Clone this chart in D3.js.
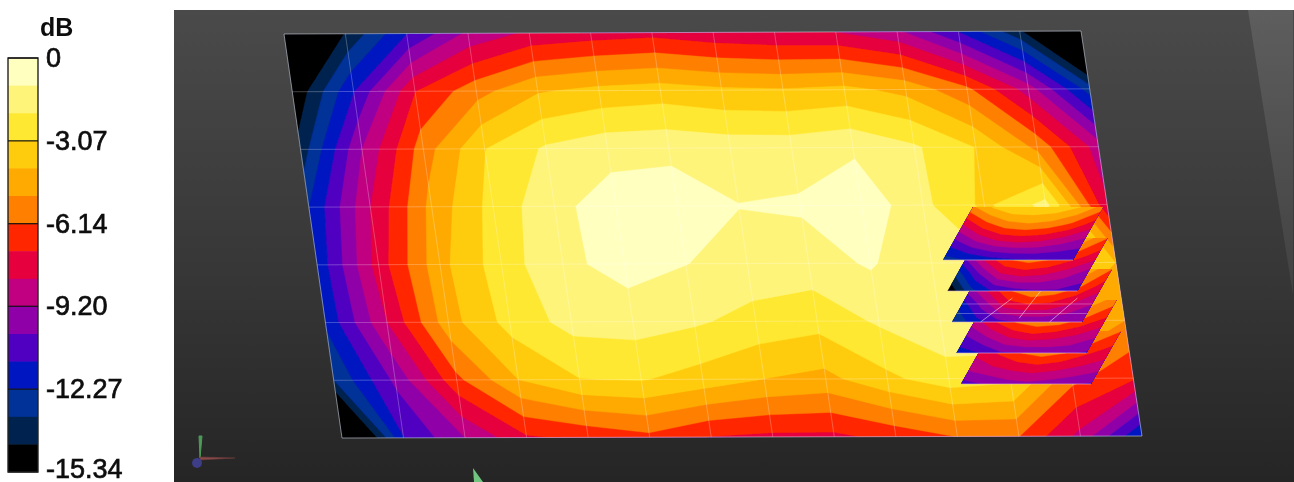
<!DOCTYPE html>
<html>
<head>
  <meta charset="utf-8">
  <style>
  html, body { margin: 0; padding: 0; background: #fff; overflow: hidden; }
  svg { display: block; }
  text { font-family: "Liberation Sans", Arial, sans-serif; fill: #111; }
  </style>
  <script src="https://d3js.org/d3.v7.min.js"></script>
</head>
<body>
  <script type="text/javascript">
  var tickLabels = ['0', '-3.07', '-6.14', '-9.20', '-12.27', '-15.34'];
  var tickValues = [0, -3.07, -6.14, -9.20, -12.27, -15.34];
  var bandColors = ['#000000', '#02234f', '#003098', '#0018c0', '#5000c0', '#9000a8', '#c00080', '#e6003c',
    '#ff2800', '#ff7f00', '#ffaa00', '#ffcc10', '#ffe830', '#fff47a', '#ffffc0'];

  // dB at the plate nodes, 14 columns, 8 rows
  var plateRows = [
    [-20.5, -14.2, -11.3, -9.0, -8.0, -7.7, -7.5, -7.9, -8.1, -8.2, -9.0, -11.3, -14.1, -19.4],
    [-15.3, -11.3, -7.2, -5.5, -4.2, -3.8, -3.6, -3.9, -4.0, -3.8, -4.4, -5.9, -8.7, -12.8],
    [-13.9, -9.2, -5.6, -3.1, -1.9, -1.4, -1.3, -1.5, -1.5, -1.2, -1.9, -3.1, -5.4, -8.7],
    [-12.3, -8.2, -4.8, -2.7, -1.3, -0.5, -0.4, -1.0, -0.9, -0.3, -1.8, -3.3, -1.7, -8.0],
    [-12.0, -7.7, -4.4, -2.5, -1.3, -0.6, -1.0, -1.4, -1.5, -0.9, -1.9, -2.0, -3.1, -4.1],
    [-12.1, -8.2, -4.5, -2.7, -1.7, -1.6, -1.9, -2.4, -2.7, -1.9, -1.3, -1.0, -4.1, -5.1],
    [-13.3, -10.0, -6.4, -4.1, -3.1, -3.0, -3.5, -4.1, -4.4, -3.3, -2.5, -2.8, -5.8, -7.0],
    [-18.4, -11.3, -9.2, -7.3, -6.9, -6.4, -7.2, -7.4, -7.4, -6.8, -6.1, -6.1, -8.5, -12.3]
  ];

  // the five small slices stacked on the right, 7 columns, 4 rows each
  var slice1 = [
    [-5.3, -3.9, -3.1, -3.1, -3.3, -4.1, -5.6],
    [-8.2, -6.6, -5.6, -5.3, -5.6, -6.4, -7.7],
    [-10.7, -9.4, -8.5, -8.2, -8.4, -9.0, -9.7],
    [-12.8, -12.3, -11.8, -11.5, -11.3, -11.3, -11.3]
  ];
  var slice2 = [
    [-6.1, -4.6, -3.6, -3.3, -3.6, -4.6, -6.1],
    [-9.7, -7.2, -5.6, -5.1, -5.6, -6.6, -7.7],
    [-12.8, -10.2, -8.2, -7.7, -8.0, -8.7, -9.7],
    [-15.3, -12.8, -11.3, -10.7, -10.4, -10.4, -10.7]
  ];
  var slice3 = [
    [-6.1, -4.6, -3.6, -3.1, -3.6, -4.6, -6.1],
    [-9.2, -7.2, -5.6, -4.6, -5.1, -6.1, -7.7],
    [-11.8, -9.7, -7.7, -7.2, -7.4, -8.2, -9.2],
    [-13.3, -11.8, -10.7, -10.2, -10.0, -10.0, -10.2]
  ];
  var slice4 = [
    [-5.6, -4.3, -3.6, -3.1, -3.6, -4.6, -5.6],
    [-8.2, -6.6, -5.4, -4.9, -5.1, -6.1, -7.2],
    [-10.2, -9.0, -7.9, -7.4, -7.7, -8.2, -9.0],
    [-11.8, -11.3, -10.4, -10.2, -10.0, -10.0, -10.4]
  ];
  var slice5 = [
    [-6.6, -5.1, -4.1, -3.6, -4.1, -5.1, -6.1],
    [-7.7, -6.6, -5.6, -5.1, -5.6, -6.6, -7.4],
    [-8.7, -8.2, -7.7, -7.4, -7.7, -8.2, -8.7],
    [-10.7, -10.2, -9.7, -9.5, -9.7, -10.0, -10.4]
  ];
  var slices = [slice1, slice2, slice3, slice4, slice5];

  var screen = {width: 1294, height: 482};
  var plate = {tl: [284, 34], tr: [1081, 31], br: [1142, 436], bl: [342, 438]};
  var slicePos = {tl: [973, 207], tr: [1103, 207], br: [1073, 260], bl: [943, 260], dx: 4.5, dy: 31};

  var svg = d3.select('body').append('svg')
    .attr('width', screen.width)
    .attr('height', screen.height);
  var defs = svg.append('defs');

  // background panel
  var bg = defs.append('linearGradient').attr('id', 'panelBg')
    .attr('x1', 0).attr('y1', 0).attr('x2', 0).attr('y2', 1);
  bg.append('stop').attr('offset', '0%').attr('stop-color', '#4a4a4a');
  bg.append('stop').attr('offset', '55%').attr('stop-color', '#373737');
  bg.append('stop').attr('offset', '100%').attr('stop-color', '#252525');
  var fade = defs.append('linearGradient').attr('id', 'wedgeFade')
    .attr('x1', 0).attr('y1', 0).attr('x2', 0).attr('y2', 1);
  fade.append('stop').attr('offset', '0%').attr('stop-color', '#fff').attr('stop-opacity', 0.11);
  fade.append('stop').attr('offset', '100%').attr('stop-color', '#fff').attr('stop-opacity', 0.06);
  defs.append('filter').attr('id', 'soft').append('feGaussianBlur').attr('stdDeviation', 0.7);
  defs.append('filter').attr('id', 'softText').append('feGaussianBlur').attr('stdDeviation', 0.4);

  svg.append('rect').attr('x', 174).attr('y', 10).attr('width', 1120).attr('height', 472).attr('fill', 'url(#panelBg)');
  svg.append('path').attr('d', 'M1248,10L1293,10L1293,295Z').attr('fill', 'url(#wedgeFade)');

  // band thresholds, lowest one catches everything under the scale
  var step = 15.34 / bandColors.length;
  var thresholds = bandColors.map(function(c, i) {
    return i === 0 ? -100 : -15.34 + i * step;
  });

  var lerp = function(a, b, t) {
    return [a[0] + (b[0] - a[0]) * t, a[1] + (b[1] - a[1]) * t];
  };
  var quadPoint = function(q, u, v) {
    return lerp(lerp(q.tl, q.tr, u), lerp(q.bl, q.br, u), v);
  };
  var lineGen = d3.line();

  // contours a grid into the quad q, clipped to it
  var drawField = function(parent, rows, q, id) {
    var nr = rows.length, nc = rows[0].length;
    var uScale = d3.scaleLinear().domain([0.5, nc - 0.5]).range([0, 1]);
    var vScale = d3.scaleLinear().domain([0.5, nr - 0.5]).range([0, 1]);
    var outline = [[0, 0], [1, 0], [1, 1], [0, 1]].map(function(p) { return quadPoint(q, p[0], p[1]); });
    defs.append('clipPath').attr('id', id).append('path').attr('d', lineGen(outline) + 'Z');

    var contours = d3.contours().size([nc, nr]).thresholds(thresholds)(d3.merge(rows));
    var g = parent.append('g').attr('clip-path', 'url(#' + id + ')');
    g.selectAll('path')
      .data(contours)
      .enter()
      .append('path')
      .attr('fill', function(d, i) { return bandColors[i]; })
      .attr('fill-rule', 'evenodd')
      .attr('stroke', function(d, i) { return bandColors[i]; })
      .attr('stroke-width', 0.4)
      .attr('d', function(d) {
        var s = '';
        d.coordinates.forEach(function(poly) {
          poly.forEach(function(ring) {
            s += lineGen(ring.map(function(p) {
              return quadPoint(q, uScale(p[0]), vScale(p[1]));
            })) + 'Z';
          });
        });
        return s;
      });
    return outline;
  };

  var soft = svg.append('g').attr('filter', 'url(#soft)');
  var outline = drawField(soft, plateRows, plate, 'clipPlate');

  // plate grid
  var gridLines = [];
  d3.range(1, 13).forEach(function(i) {
    gridLines.push([quadPoint(plate, i / 13, 0), quadPoint(plate, i / 13, 1)]);
  });
  d3.range(1, 7).forEach(function(j) {
    gridLines.push([quadPoint(plate, 0, j / 7), quadPoint(plate, 1, j / 7)]);
  });
  soft.selectAll('line.grid')
    .data(gridLines)
    .enter()
    .append('line')
    .attr('class', 'grid')
    .attr('x1', function(d) { return d[0][0]; })
    .attr('y1', function(d) { return d[0][1]; })
    .attr('x2', function(d) { return d[1][0]; })
    .attr('y2', function(d) { return d[1][1]; })
    .attr('stroke', '#fff')
    .attr('stroke-opacity', 0.25)
    .attr('stroke-width', 1);
  soft.append('path')
    .attr('d', lineGen(outline) + 'Z')
    .attr('fill', 'none')
    .attr('stroke', '#c8d0e0')
    .attr('stroke-opacity', 0.6)
    .attr('stroke-width', 1);

  // slices, bottom one first so that the upper ones cover it
  d3.range(slices.length - 1, -1, -1).forEach(function(i) {
    var shift = function(p) { return [p[0] + slicePos.dx * i, p[1] + slicePos.dy * i]; };
    var q = {tl: shift(slicePos.tl), tr: shift(slicePos.tr), br: shift(slicePos.br), bl: shift(slicePos.bl)};
    var out = drawField(soft, slices[i], q, 'clipSlice' + i);
    soft.append('path')
      .attr('d', lineGen([out[3], out[2]]))
      .attr('stroke', '#d8b8e8')
      .attr('stroke-opacity', 0.6)
      .attr('fill', 'none');
    if (i === 2) {
      // the third slice shows a few mesh lines through it
      [[0.5, 0.93, 0.55, 0.38], [0.22, 1, 0.36, 0.55], [0.75, 1, 0.86, 0.55]].forEach(function(s) {
        soft.append('path')
          .attr('d', lineGen([quadPoint(q, s[0], s[1]), quadPoint(q, s[2], s[3])]))
          .attr('stroke', '#fff').attr('stroke-opacity', 0.5).attr('fill', 'none');
      });
      [0.66, 0.84].forEach(function(v) {
        soft.append('path')
          .attr('d', lineGen([quadPoint(q, 0, v), quadPoint(q, 1, v)]))
          .attr('stroke', '#fff').attr('stroke-opacity', 0.3).attr('fill', 'none');
      });
    }
  });

  // axis triad and the stray green arrow
  var triad = svg.append('g').attr('filter', 'url(#soft)');
  triad.append('path').attr('d', 'M200,458L199,436L202,436Z').attr('fill', '#4f9a58').attr('stroke', '#4f9a58');
  triad.append('path').attr('d', 'M200,457L235,458L200,460Z').attr('fill', '#8a4a4a').attr('stroke', '#6a3a3a').attr('stroke-width', 0.6);
  triad.append('circle').attr('cx', 197).attr('cy', 463).attr('r', 5).attr('fill', '#3c3c88');
  triad.append('path').attr('d', 'M473,468L483,482L474,482Z').attr('fill', '#6fc47f');

  // legend
  var yLegend = d3.scaleLinear().domain([0, -15.34]).range([58, 472]);
  var legend = svg.append('g').attr('filter', 'url(#softText)');
  var legendBands = bandColors.slice().reverse();
  legend.selectAll('rect.band')
    .data(legendBands)
    .enter()
    .append('rect')
    .attr('class', 'band')
    .attr('x', 8)
    .attr('y', function(d, i) { return yLegend(-i * step); })
    .attr('width', 30)
    .attr('height', yLegend(-step) - yLegend(0) + 0.5)
    .attr('fill', function(d) { return d; });
  legend.append('rect')
    .attr('x', 8).attr('y', 58).attr('width', 30).attr('height', 414)
    .attr('fill', 'none').attr('stroke', '#222').attr('stroke-width', 1.4);
  legend.selectAll('line')
    .data(tickValues.slice(0, 5))
    .enter()
    .append('line')
    .attr('x1', 8)
    .attr('x2', 38)
    .attr('y1', function(d) { return yLegend(d); })
    .attr('y2', function(d) { return yLegend(d); })
    .attr('stroke', '#111')
    .attr('stroke-width', 1.2);
  legend.selectAll('text.tick')
    .data(tickLabels)
    .enter()
    .append('text')
    .attr('class', 'tick')
    .attr('x', 46)
    .attr('y', function(d, i) { return Math.min(yLegend(tickValues[i]) + 9, 478); })
    .attr('font-size', 27)
    .attr('stroke', '#111')
    .attr('stroke-width', 0.7)
    .text(function(d) { return d; });
  legend.append('text')
    .attr('x', 40)
    .attr('y', 36)
    .attr('font-size', 25)
    .attr('font-weight', 'bold')
    .text('dB');
  </script>
</body>
</html>
